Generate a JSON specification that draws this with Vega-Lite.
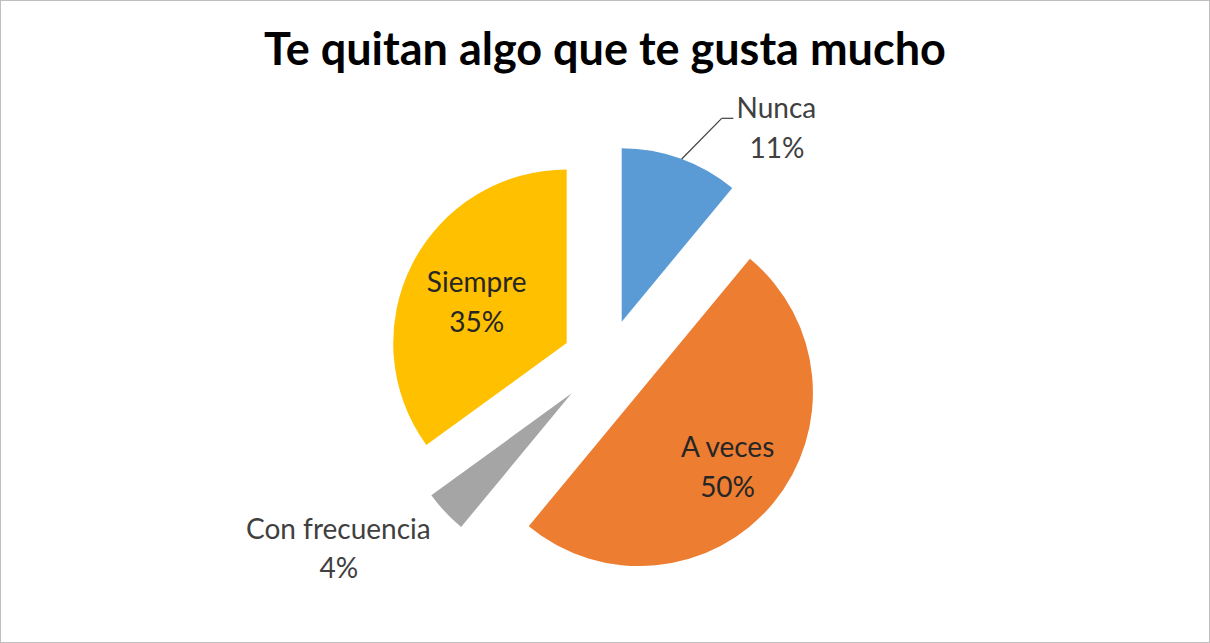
{
  "$schema": "https://vega.github.io/schema/vega-lite/v6.json",
  "width": 1210,
  "height": 643,
  "autosize": {"type": "fit", "contains": "padding"},
  "padding": 0,
  "background": "white",
  "config": {"view": {"stroke": "#BFBFBF", "strokeWidth": 2}, "font": "Lato"},
  "title": {
    "text": "Te quitan algo que te gusta mucho",
    "font": "Lato",
    "fontSize": 45,
    "fontWeight": "bold",
    "color": "#000000",
    "anchor": "middle",
    "baseline": "alphabetic",
    "offset": -110
  },
  "data": {
    "values": [
      {"categoria": "Nunca", "proporcion": 0.11, "orden": 1},
      {"categoria": "A veces", "proporcion": 0.50, "orden": 2},
      {"categoria": "Con frecuencia", "proporcion": 0.04, "orden": 3},
      {"categoria": "Siempre", "proporcion": 0.35, "orden": 4}
    ]
  },
  "encoding": {
    "x": {"datum": "centro", "type": "nominal", "axis": null},
    "y": {"datum": "centro", "type": "nominal", "axis": null}
  },
  "layer": [
    {
      "encoding": {
        "theta": {"field": "proporcion", "type": "quantitative", "stack": true},
        "order": {"field": "orden", "type": "quantitative"},
        "detail": {"field": "categoria"}
      },
      "layer": [
        {
          "mark": {"type": "arc", "outerRadius": 173.5, "xOffset": 16.7, "yOffset": 0.2},
          "encoding": {
            "color": {"field": "categoria", "type": "nominal", "legend": null,
              "scale": {"domain": ["Nunca", "A veces", "Con frecuencia", "Siempre"], "range": ["#5B9BD5", "#ED7D31", "#A5A5A5", "#FFC000"]}},
            "opacity": {"condition": {"test": "datum.categoria === 'Nunca'", "value": 1}, "value": 0}
          }
        },
        {
          "mark": {"type": "arc", "outerRadius": 173.5, "xOffset": 34.3, "yOffset": 71.0},
          "encoding": {
            "color": {"field": "categoria", "type": "nominal", "legend": null},
            "opacity": {"condition": {"test": "datum.categoria === 'A veces'", "value": 1}, "value": 0}
          }
        },
        {
          "mark": {"type": "arc", "outerRadius": 173.5, "xOffset": -33.3, "yOffset": 71.8},
          "encoding": {
            "color": {"field": "categoria", "type": "nominal", "legend": null},
            "opacity": {"condition": {"test": "datum.categoria === 'Con frecuencia'", "value": 1}, "value": 0}
          }
        },
        {
          "mark": {"type": "arc", "outerRadius": 173.5, "xOffset": -38.3, "yOffset": 21.5},
          "encoding": {
            "color": {"field": "categoria", "type": "nominal", "legend": null},
            "opacity": {"condition": {"test": "datum.categoria === 'Siempre'", "value": 1}, "value": 0}
          }
        },
        {
          "mark": {"type": "text", "radius": 225.2, "xOffset": 95.1, "yOffset": 8.7, "baseline": "alphabetic", "align": "center", "fontSize": 28, "font": "Lato", "color": "#404040"},
          "encoding": {"text": {"condition": {"test": "datum.categoria === 'Nunca'", "field": "categoria"}, "value": ""}}
        },
        {
          "mark": {"type": "text", "radius": 225.2, "xOffset": 95.6, "yOffset": 48.1, "baseline": "alphabetic", "align": "center", "fontSize": 28, "font": "Lato", "color": "#404040"},
          "encoding": {"text": {"condition": {"test": "datum.categoria === 'Nunca'", "field": "proporcion", "type": "quantitative", "format": ".0%"}, "value": ""}}
        },
        {
          "mark": {"type": "text", "radius": 122.1, "xOffset": 28.5, "yOffset": 58.0, "baseline": "alphabetic", "align": "center", "fontSize": 28, "font": "Lato", "color": "#262626"},
          "encoding": {"text": {"condition": {"test": "datum.categoria === 'A veces'", "field": "categoria"}, "value": ""}}
        },
        {
          "mark": {"type": "text", "radius": 122.1, "xOffset": 28.5, "yOffset": 98.0, "baseline": "alphabetic", "align": "center", "fontSize": 28, "font": "Lato", "color": "#262626"},
          "encoding": {"text": {"condition": {"test": "datum.categoria === 'A veces'", "field": "proporcion", "type": "quantitative", "format": ".0%"}, "value": ""}}
        },
        {
          "mark": {"type": "text", "radius": 283.5, "xOffset": -60.0, "yOffset": 23.7, "baseline": "alphabetic", "align": "center", "fontSize": 28, "font": "Lato", "color": "#404040"},
          "encoding": {"text": {"condition": {"test": "datum.categoria === 'Con frecuencia'", "field": "categoria"}, "value": ""}}
        },
        {
          "mark": {"type": "text", "radius": 283.5, "xOffset": -59.6, "yOffset": 62.7, "baseline": "alphabetic", "align": "center", "fontSize": 28, "font": "Lato", "color": "#404040"},
          "encoding": {"text": {"condition": {"test": "datum.categoria === 'Con frecuencia'", "field": "proporcion", "type": "quantitative", "format": ".0%"}, "value": ""}}
        },
        {
          "mark": {"type": "text", "radius": 94.4, "xOffset": -44.2, "yOffset": 13.1, "baseline": "alphabetic", "align": "center", "fontSize": 28, "font": "Lato", "color": "#262626"},
          "encoding": {"text": {"condition": {"test": "datum.categoria === 'Siempre'", "field": "categoria"}, "value": ""}}
        },
        {
          "mark": {"type": "text", "radius": 94.4, "xOffset": -44.2, "yOffset": 53.1, "baseline": "alphabetic", "align": "center", "fontSize": 28, "font": "Lato", "color": "#262626"},
          "encoding": {"text": {"condition": {"test": "datum.categoria === 'Siempre'", "field": "proporcion", "type": "quantitative", "format": ".0%"}, "value": ""}}
        }
      ]
    },
    {
      "transform": [{"filter": "datum.categoria === 'Nunca'"}],
      "mark": {"type": "rule", "color": "#404040", "strokeWidth": 1.2, "xOffset": 76.7, "yOffset": -162.5, "x2Offset": 116.7, "y2Offset": -203.2},
      "encoding": {
        "x2": {"datum": "centro"},
        "y2": {"datum": "centro"}
      }
    },
    {
      "transform": [{"filter": "datum.categoria === 'Nunca'"}],
      "mark": {"type": "rule", "color": "#404040", "strokeWidth": 1.2, "xOffset": 116.7, "yOffset": -203.2, "x2Offset": 128.3, "y2Offset": -203.2},
      "encoding": {
        "x2": {"datum": "centro"},
        "y2": {"datum": "centro"}
      }
    }
  ]
}
